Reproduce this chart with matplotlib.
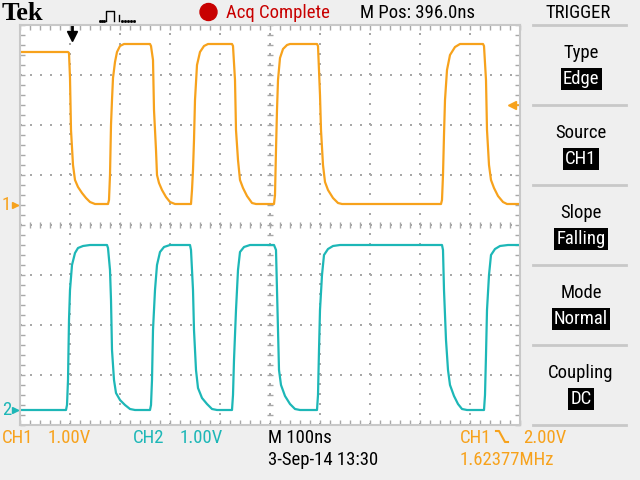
"""
Tek scope screenshot: CH1/CH2 square waves with the trigger menu.
"""

from matplotlib import font_manager, pyplot as plt
from matplotlib.patches import Circle
from matplotlib.transforms import blended_transform_factory
import numpy as np

# time in ns from the left edge of the screen, volts per channel
CH1_T = [0, 96, 98, 100, 102, 106, 110, 116, 124, 132, 140, 150,
         176, 178, 180, 182, 184, 186, 190, 194, 200, 208,
         260, 262, 266, 268, 272, 274, 278, 284, 292, 300, 310,
         342, 344, 346, 348, 350, 354, 360, 368, 376,
         424, 426, 430, 432, 436, 440, 446, 454, 464, 472,
         508, 510, 512, 514, 516, 520, 526, 534, 540,
         594, 596, 600, 602, 606, 610, 616, 626, 636, 644,
         842, 844, 846, 848, 850, 854, 860, 870, 880,
         926, 928, 932, 934, 938, 942, 948, 956, 966, 974, 1000]
CH1_V = [3.06, 3.06, 3.04, 2.54, 1.50, 0.80, 0.50, 0.36, 0.24, 0.14, 0.06, 0.02,
         0.02, 0.10, 0.60, 1.60, 2.10, 2.54, 2.86, 3.06, 3.18, 3.22,
         3.22, 3.18, 2.90, 1.90, 1.10, 0.60, 0.44, 0.30, 0.16, 0.06, 0.02,
         0.02, 0.30, 0.70, 1.30, 2.10, 2.80, 3.06, 3.18, 3.22,
         3.22, 3.18, 2.50, 1.50, 0.90, 0.50, 0.34, 0.18, 0.04, 0.02,
         0.02, 0.20, 1.10, 1.90, 2.50, 2.94, 3.12, 3.20, 3.22,
         3.22, 3.18, 2.20, 1.50, 0.80, 0.46, 0.30, 0.14, 0.04, 0.02,
         0.02, 0.10, 0.60, 1.40, 2.10, 2.70, 3.00, 3.16, 3.22,
         3.22, 3.18, 2.50, 1.50, 0.80, 0.50, 0.34, 0.18, 0.06, 0.02, 0.02]

CH2_T = [0, 92, 94, 96, 98, 100, 104, 110, 116, 126, 140,
         174, 176, 180, 182, 184, 188, 192, 200, 210, 220, 230,
         260, 262, 264, 266, 270, 274, 280, 288, 300,
         340, 342, 346, 348, 352, 356, 364, 374, 384, 394,
         424, 426, 428, 432, 436, 440, 448, 460,
         508, 512, 514, 516, 518, 522, 530, 540, 550, 560,
         594, 596, 598, 600, 604, 608, 616, 626, 640,
         844, 846, 848, 852, 856, 860, 868, 876, 884, 894,
         928, 930, 932, 934, 938, 942, 950, 960, 976, 1000]
CH2_V = [0.0, 0.0, 0.10, 0.60, 1.80, 2.40, 2.90, 3.14, 3.24, 3.28, 3.30,
         3.30, 3.24, 2.80, 2.20, 1.20, 0.60, 0.34, 0.20, 0.10, 0.02, 0.0,
         0.0, 0.10, 0.60, 1.60, 2.40, 2.90, 3.16, 3.26, 3.30,
         3.30, 3.20, 2.40, 1.60, 0.80, 0.44, 0.24, 0.12, 0.02, 0.0,
         0.0, 0.30, 1.00, 2.00, 2.80, 3.16, 3.26, 3.30,
         3.30, 3.20, 2.40, 1.60, 0.80, 0.50, 0.28, 0.12, 0.02, 0.0,
         0.0, 0.30, 1.20, 2.00, 2.70, 3.10, 3.22, 3.28, 3.30,
         3.30, 3.20, 2.40, 1.40, 0.80, 0.50, 0.28, 0.12, 0.02, 0.0,
         0.0, 0.30, 1.10, 2.00, 2.70, 3.10, 3.22, 3.28, 3.30, 3.30]

VOLTS_PER_DIV = [1.0, 1.0]
OFFSETS = [0.4, -3.7]          # ground marker, divisions from centre
TRIGGER_TIME = 104             # ns
TRIGGER_LEVEL = 2.0            # V on CH1

MENU_TITLES = ['Type', 'Source', 'Slope', 'Mode', 'Coupling']
MENU_VALUES = ['Edge', 'CH1', 'Falling', 'Normal', 'DC']

ORANGE = '#f7a21c'
TEAL = '#1db7b7'
RED = '#c80000'
GREY = '#a8a8a8'
LIGHT = '#c8c8c8'
PANEL = '#efefef'

names = {f.name for f in font_manager.fontManager.ttflist}
FONT = next((n for n in ('Liberation Sans Narrow', 'Roboto Condensed')
             if n in names), 'Liberation Sans')
TEK = dict(family=FONT, fontsize=13.5, va='baseline')

fig = plt.figure(figsize=(6.4, 4.8), dpi=100, facecolor=PANEL)

# overlay in screen pixels for the text around the graticule
ov = fig.add_axes([0, 0, 1, 1])
ov.set_xlim(0, 640)
ov.set_ylim(480, 0)
ov.axis('off')

scope = fig.add_axes([20 / 640, 55 / 480, 500 / 640, 400 / 480],
                     facecolor='white')
scope.set_xlim(0, 1000)
scope.set_ylim(-4, 4)
scope.set_xticks(np.arange(0, 1001, 100))
scope.set_xticks(np.arange(0, 1001, 20), minor=True)
scope.set_yticks(np.arange(-4, 4.01, 1))
scope.set_yticks(np.arange(-4, 4.01, 0.2), minor=True)
scope.tick_params(which='both', direction='in', length=3.6, width=1,
                  color=GREY, top=True, right=True,
                  labelbottom=False, labelleft=False)
for sp in scope.spines.values():
    sp.set_color(LIGHT)
    sp.set_linewidth(1.5)
scope.grid(which='major', color=GREY, linestyle=(0, (1, 4)), linewidth=1.44)

# centre cross ticks
scope.vlines(np.arange(0, 1001, 20), -0.06, 0.06, color=GREY, lw=1)
scope.hlines(np.arange(-4, 4.01, 0.2), 494, 506, color=GREY, lw=1)

for t, v, vpd, off, c in ((CH1_T, CH1_V, VOLTS_PER_DIV[0], OFFSETS[0], ORANGE),
                          (CH2_T, CH2_V, VOLTS_PER_DIV[1], OFFSETS[1], TEAL)):
    scope.plot(t, np.array(v) / vpd + off, color=c, lw=1.6)

# trigger position and level markers
scope.plot([TRIGGER_TIME, TRIGGER_TIME], [4, 3.75], color='black', lw=2,
           clip_on=False)
scope.plot(TRIGGER_TIME, 3.78, marker='v', ms=7, color='black', clip_on=False)
lvl = TRIGGER_LEVEL / VOLTS_PER_DIV[0] + OFFSETS[0]
scope.plot([982, 1000], [lvl, lvl], color=ORANGE, lw=1.2)
scope.plot(984, lvl, marker='<', ms=6, color=ORANGE)

# channel ground markers left of the graticule
side = blended_transform_factory(ov.transData, scope.transData)
for i, (off, c) in enumerate(zip(OFFSETS, (ORANGE, TEAL))):
    ov.text(2, off, str(i + 1), color=c, family=FONT, fontsize=13.5,
            va='center', transform=side)
    ov.plot([13, 20], [off, off], color=c, lw=1, transform=side)
    ov.plot(15, off, marker='>', ms=5, color=c, transform=side)

# header
ov.text(2, 20, 'Tek', family='Liberation Serif', fontweight='bold',
        fontsize=19, va='baseline')
ov.plot([100, 102, 104], [21, 21, 21], ls='none', marker='s', ms=1,
        color='black')
ov.plot([106, 106, 114, 114], [21, 11, 11, 21], color='black', lw=1)
ov.plot([119, 119], [15, 21], color='black', lw=1)
ov.plot([122, 125, 128, 131, 134], [21] * 5, ls='none', marker='s', ms=1,
        color='black')
ov.add_patch(Circle((208.5, 12), 8.5, color=RED))
ov.text(226, 18, 'Acq Complete', color=RED, **TEK)
ov.text(360, 18, 'M Pos: 396.0ns', **TEK)
ov.text(578, 18, 'TRIGGER', ha='center', **TEK)

# trigger menu
for k in range(6):
    ov.plot([533, 626], [25 + 80 * k] * 2, color=LIGHT, lw=2)
for k, (title, value) in enumerate(zip(MENU_TITLES, MENU_VALUES)):
    ov.text(581, 58 + 80 * k, title, ha='center', **TEK)
    ov.text(581, 84 + 80 * k, value, ha='center', color='white',
            bbox=dict(boxstyle='square,pad=0.12', fc='black', ec='none'),
            **TEK)

# footer
ov.text(2, 443, 'CH1', color=ORANGE, **TEK)
ov.text(48, 443, '1.00V', color=ORANGE, **TEK)
ov.text(133, 443, 'CH2', color=TEAL, **TEK)
ov.text(180, 443, '1.00V', color=TEAL, **TEK)
ov.text(268, 443, 'M 100ns', **TEK)
ov.text(268, 465, '3-Sep-14 13:30', **TEK)
ov.text(460, 443, 'CH1', color=ORANGE, **TEK)
ov.plot([496, 499, 505, 508], [431, 431, 442, 442], color=ORANGE, lw=1.5)
ov.text(523, 443, '2.00V', color=ORANGE, **TEK)
ov.text(460, 465, '1.62377MHz', color=ORANGE, **TEK)

fig.savefig('out.png', dpi=100, facecolor=PANEL)
